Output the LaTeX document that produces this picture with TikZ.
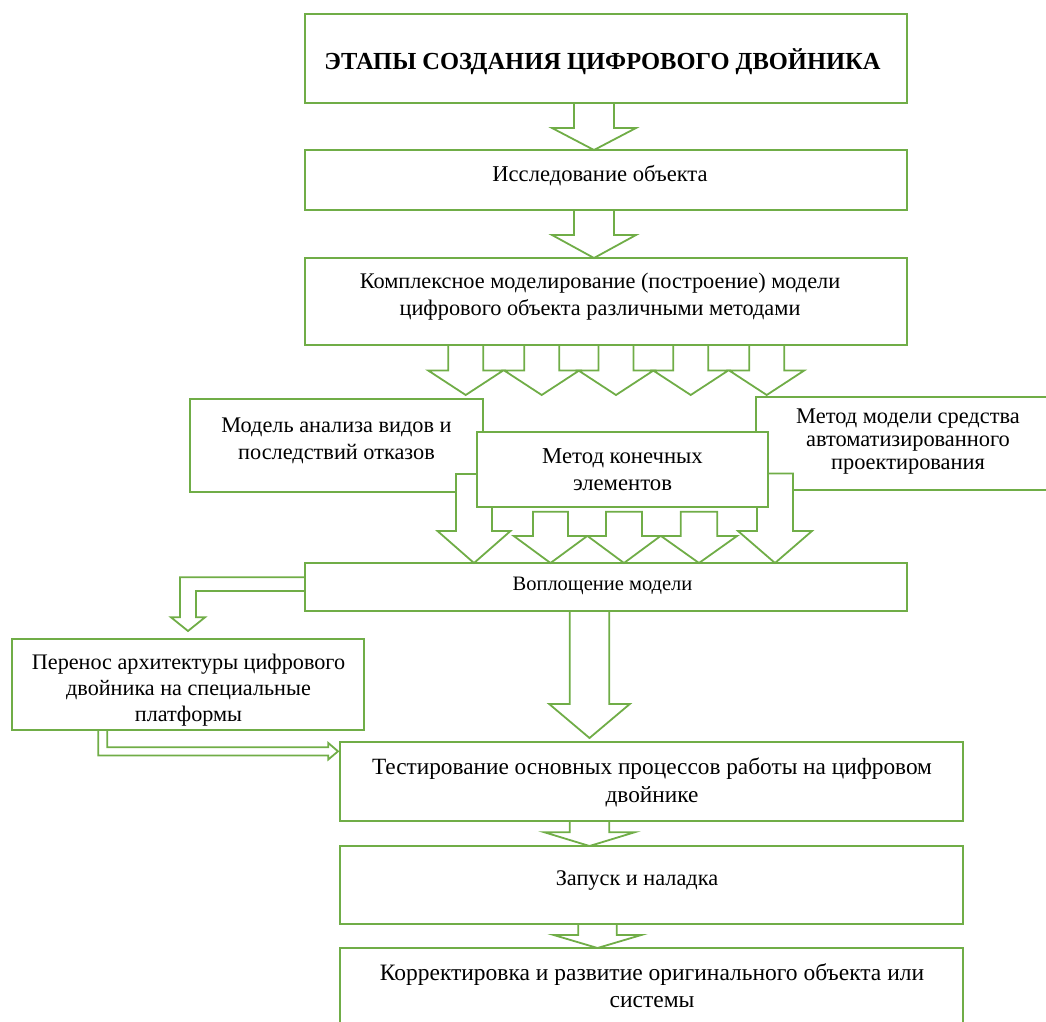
\documentclass[tikz,border=0pt]{standalone}
\usepackage{fontspec}
\setmainfont{Liberation Serif}
\usetikzlibrary{calc}
\definecolor{grn}{HTML}{70AD47}
\newcommand\blkarrow[5]{% #1 top point (y used), #2 tip, #3 shaft half, #4 head half, #5 head length
  \draw[barr] let \p1=#1, \p2=#2 in
    (\x2-#3pt,\y1) -- (\x2-#3pt,\y2+#5pt) -- (\x2-#4pt,\y2+#5pt) -- (\x2,\y2)
    -- (\x2+#4pt,\y2+#5pt) -- (\x2+#3pt,\y2+#5pt) -- (\x2+#3pt,\y1) -- cycle;}
\newcommand\fsz[2]{\fontsize{#1}{#2}\selectfont}
\tikzset{
  box/.style={draw=grn, line width=1.8pt, fill=white, inner sep=0pt, outer sep=0pt},
  txt/.style={inner sep=0pt, align=center, text=black},
  barr/.style={draw=grn, line width=1.8pt, fill=white, line join=miter},
}
\begin{document}
\begin{tikzpicture}[x=1pt, y={(0pt,-1pt)}]
\useasboundingbox (0,0) rectangle (1046,1021);
% top chain
\node[box, minimum width=602pt, minimum height=89pt] (title) at (606,58.5) {};
\node[txt, font=\fsz{24.5}{28}\bfseries] (title-t) at ($(title.center)+(-3.5,3)$) {ЭТАПЫ СОЗДАНИЯ ЦИФРОВОГО ДВОЙНИКА};
\node[box, minimum width=602pt, minimum height=60pt] (issl) at (606,180) {};
\node[txt, font=\fsz{22.6}{27}] (issl-t) at ($(issl.center)+(-6,-4)$) {Исследование объекта};
\node[box, minimum width=602pt, minimum height=87pt] (kompl) at (606,301.5) {};
\node[txt, font=\fsz{22.3}{27}] (kompl-t) at ($(kompl.center)+(-6,-5)$) {Комплексное моделирование (построение) модели\\цифрового объекта различными методами};
\blkarrow{(title.south)}{($(issl.north)+(-12,0)$)}{20}{42}{22}
\blkarrow{(issl.south)}{($(kompl.north)+(-12,0)$)}{20}{42}{23}
% fan of arrows
\blkarrow{(kompl.south)}{($(kompl.south)+(-140.3,50)$)}{17.5}{37.5}{24.5}
\blkarrow{(kompl.south)}{($(kompl.south)+(-64.3,50)$)}{17.5}{37.5}{24.5}
\blkarrow{(kompl.south)}{($(kompl.south)+(10,50)$)}{17.5}{37.5}{24.5}
\blkarrow{(kompl.south)}{($(kompl.south)+(84.7,50)$)}{17.5}{37.5}{24.5}
\blkarrow{(kompl.south)}{($(kompl.south)+(160.7,50)$)}{17.5}{37.5}{24.5}
% three method boxes
\node[box, minimum width=293pt, minimum height=93pt] (fmea) at (336.5,445.5) {};
\node[txt, font=\fsz{22.3}{27}] (fmea-t) at ($(fmea.center)+(0,-5)$) {Модель анализа видов и\\последствий отказов};
\node[box, minimum width=304pt, minimum height=93pt] (cad) at (908,443.5) {};
\node[txt, font=\fsz{22.4}{23}] (cad-t) at ($(cad.center)+(0,-2)$) {Метод модели средства\\автоматизированного\\проектирования};
\node[box, minimum width=602pt, minimum height=48pt] (voplo) at (606,587) {};
\node[txt, font=\fsz{20.5}{25}] (voplo-t) at ($(voplo.center)+(-3.5,-1.5)$) {Воплощение модели};
\blkarrow{($(voplo.north)+(0,-89)$)}{($(voplo.north)+(-132,0)$)}{18}{36.5}{32}
\blkarrow{($(voplo.north)+(0,-89.5)$)}{($(voplo.north)+(169,0)$)}{18}{37}{32}
\node[box, minimum width=291pt, minimum height=75pt] (fem) at (622.5,469.5) {};
\node[txt, font=\fsz{22.7}{27}] (fem-t) at (fem.center) {Метод конечных\\элементов};
\blkarrow{($(fem.south)+(0,4.7)$)}{($(voplo.north)+(-55.5,0)$)}{17.5}{36.7}{27}
\blkarrow{($(fem.south)+(0,4.7)$)}{($(voplo.north)+(18,0)$)}{18}{36.5}{27}
\blkarrow{($(fem.south)+(0,4.7)$)}{($(voplo.north)+(93,0)$)}{18.3}{38}{27}
% lower part
\node[box, minimum width=352pt, minimum height=91pt] (perenos) at (188,684.5) {};
\node[txt, font=\fsz{22.2}{26}] (perenos-t) at ($(perenos.center)+(0.5,6)$) {Перенос архитектуры цифрового\\двойника на специальные\\платформы};
\node[box, minimum width=623pt, minimum height=79pt] (test) at (651.5,781.5) {};
\node[txt, font=\fsz{23.3}{28}] (test-t) at ($(test.center)+(0.5,1)$) {Тестирование основных процессов работы на цифровом\\двойнике};
\node[box, minimum width=623pt, minimum height=78pt] (zapusk) at (651.5,885) {};
\node[txt, font=\fsz{22.3}{27}] (zapusk-t) at ($(zapusk.center)+(-14.5,-4)$) {Запуск и наладка};
\node[box, minimum width=623pt, minimum height=82pt] (korr) at (651.5,989) {};
\node[txt, font=\fsz{23.5}{27}] (korr-t) at ($(korr.center)+(0.5,-3.5)$) {Корректировка и развитие оригинального объекта или\\системы};
\draw[barr] ($(voplo.west)+(0,-9.7)$) -| (180,617.3) -- (171,617.3) -- ($(perenos.north)+(0,-8)$)
  -- (205,617.3) -- (196,617.3) |- ($(voplo.west)+(0,4)$) -- cycle;
\draw[barr, fill=none] ($(perenos.south)+(-89.7,0)$) |- (328.3,755.5) -- (328.3,759.5)
  -- ($(test.west)+(-2,-30.2)$) -- (328.3,743) -- (328.3,747.3) -| ($(perenos.south)+(-80.7,0)$);
\blkarrow{(voplo.south)}{($(test.north)+(-62,-4)$)}{19.7}{40.3}{34}
\blkarrow{(test.south)}{($(zapusk.north)+(-62,0)$)}{19.7}{45}{13.7}
\blkarrow{(zapusk.south)}{($(korr.north)+(-54,0)$)}{19.2}{43.8}{13}
\end{tikzpicture}
\end{document}
